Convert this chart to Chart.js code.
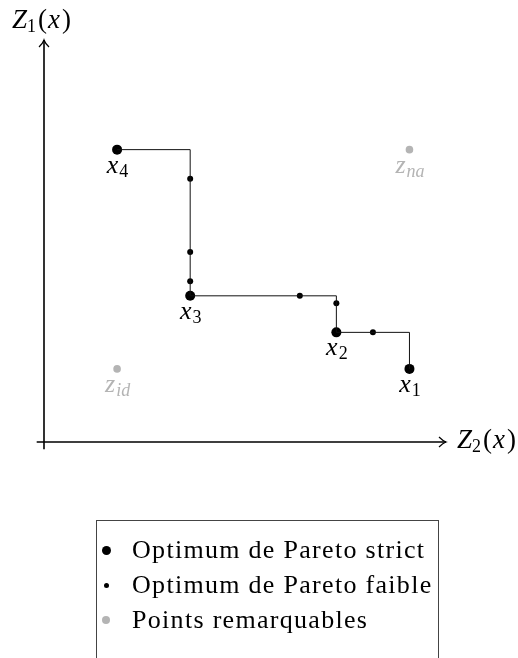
<!DOCTYPE html>
<html>
<head>
<meta charset="utf-8">
<script src="https://cdn.jsdelivr.net/npm/chart.js@4"></script>
<style>
  html, body { margin: 0; padding: 0; background: #fff; overflow: hidden; }
  #wrap { position: relative; width: 518px; height: 658px; }
  #legend { position: absolute; left: 96px; top: 520px; width: 341px; height: 200px;
    border: 1px solid #444; border-bottom: none; font-family: "Liberation Serif", serif;
    font-size: 26px; letter-spacing: 1.3px; color: #000; }
  .row { position: absolute; left: 0; height: 30px; line-height: 30px; white-space: nowrap; }
  .dot { position: absolute; border-radius: 50%; }
  .txt { position: absolute; left: 35px; top: 0; }
</style>
</head>
<body>
<div id="wrap">
  <canvas id="myChart" width="518" height="658"></canvas>
  <div id="legend"></div>
</div>
<script>
// Z2 on the horizontal axis, Z1 on the vertical axis
const strictNames = ['4', '3', '2', '1'];
const strictZ2 = [2, 4, 8, 10];
const strictZ1 = [8, 4, 3, 2];
const weakZ2 = [4, 4, 4, 7, 8, 9];
const weakZ1 = [7.2, 5.2, 4.4, 4, 3.8, 3];
const remarkNames = ['id', 'na'];
const remarkZ2 = [2, 10];
const remarkZ1 = [2, 8];
const legendLabels = ['Optimum de Pareto strict', 'Optimum de Pareto faible', 'Points remarquables'];

const grey = '#b4b4b4';
const serif = '"Liberation Serif", serif';

const toPoints = (xs, ys) => xs.map((x, i) => ({x: x, y: ys[i]}));

// draws things like x_4 or z_id centred on cx
function drawSym(ctx, main, sub, subItalic, cx, base, color){
  ctx.font = 'italic 26px ' + serif;
  const w1 = ctx.measureText(main).width;
  ctx.font = (subItalic ? 'italic ' : '') + '18px ' + serif;
  const w2 = ctx.measureText(sub).width;
  const x0 = cx - (w1 + w2) / 2;
  ctx.fillStyle = color;
  ctx.font = 'italic 26px ' + serif;
  ctx.fillText(main, x0, base);
  ctx.font = (subItalic ? 'italic ' : '') + '18px ' + serif;
  ctx.fillText(sub, x0 + w1 + 1, base + 4);
}

function drawAxisName(ctx, idx, left, base){
  ctx.fillStyle = '#000';
  ctx.font = 'italic 27px ' + serif;
  ctx.fillText('Z', left, base);
  let x = left + ctx.measureText('Z').width;
  ctx.font = '18px ' + serif;
  ctx.fillText(idx, x, base + 4);
  x += ctx.measureText(idx).width + 2;
  ctx.font = '27px ' + serif;
  ctx.fillText('(', x, base);
  x += ctx.measureText('(').width + 1;
  ctx.font = 'italic 27px ' + serif;
  ctx.fillText('x', x, base);
  x += ctx.measureText('x').width + 2;
  ctx.font = '27px ' + serif;
  ctx.fillText(')', x, base);
}

const axesPlugin = {
  id: 'axesPlugin',
  beforeDatasetsDraw(chart){
    const {ctx, scales: {x, y}} = chart;
    const x0 = x.getPixelForValue(0), y0 = y.getPixelForValue(0);
    const xEnd = x.getPixelForValue(11), yEnd = y.getPixelForValue(11);
    ctx.save();
    ctx.strokeStyle = '#000';
    ctx.lineWidth = 1.6;
    ctx.beginPath();
    ctx.moveTo(x.getPixelForValue(-0.2), y0);
    ctx.lineTo(xEnd, y0);
    ctx.moveTo(x0, y.getPixelForValue(-0.2));
    ctx.lineTo(x0, yEnd);
    ctx.stroke();
    // arrow heads
    ctx.lineWidth = 1.2;
    ctx.beginPath();
    ctx.moveTo(xEnd - 7, y0 - 5);
    ctx.quadraticCurveTo(xEnd - 3, y0 - 1, xEnd, y0);
    ctx.quadraticCurveTo(xEnd - 3, y0 + 1, xEnd - 7, y0 + 5);
    ctx.moveTo(x0 - 5, yEnd + 7);
    ctx.quadraticCurveTo(x0 - 1, yEnd + 3, x0, yEnd);
    ctx.quadraticCurveTo(x0 + 1, yEnd + 3, x0 + 5, yEnd + 7);
    ctx.stroke();
    drawAxisName(ctx, '1', 12, 28);
    drawAxisName(ctx, '2', xEnd + 11, y0 + 6);
    ctx.restore();
  },
  afterDatasetsDraw(chart){
    const ctx = chart.ctx;
    ctx.save();
    chart.getDatasetMeta(1).data.forEach((pt, i) => {
      drawSym(ctx, 'x', strictNames[i], false, pt.x, pt.y + 23, '#000');
    });
    chart.getDatasetMeta(3).data.forEach((pt, i) => {
      drawSym(ctx, 'z', remarkNames[i], true, pt.x, pt.y + 23, grey);
    });
    ctx.restore();
  }
};

new Chart(document.getElementById('myChart'), {
  type: 'scatter',
  data: {
    datasets: [{
      label: 'front',
      data: toPoints(strictZ2, strictZ1),
      showLine: true,
      stepped: 'before',
      borderColor: '#111',
      borderWidth: 1,
      pointRadius: 0,
      fill: false
    }, {
      label: legendLabels[0],
      data: toPoints(strictZ2, strictZ1),
      backgroundColor: '#000',
      borderWidth: 0,
      pointRadius: 5
    }, {
      label: legendLabels[1],
      data: toPoints(weakZ2, weakZ1),
      backgroundColor: '#000',
      borderWidth: 0,
      pointRadius: 3
    }, {
      label: legendLabels[2],
      data: toPoints(remarkZ2, remarkZ1),
      backgroundColor: grey,
      borderWidth: 0,
      pointRadius: 3.8
    }]
  },
  options: {
    responsive: false,
    animation: false,
    layout: { padding: { left: 44, right: 72, top: 40, bottom: 216 } },
    scales: {
      x: { type: 'linear', min: 0, max: 11, display: false },
      y: { type: 'linear', min: 0, max: 11, display: false }
    },
    plugins: { legend: { display: false }, tooltip: { enabled: false } },
    elements: { point: { hoverRadius: 0 } },
    clip: false
  },
  plugins: [axesPlugin]
});

// legend box under the chart
const legend = document.getElementById('legend');
const dotSizes = [9, 5, 8];
const dotColors = ['#000', '#000', grey];
legendLabels.forEach((label, i) => {
  const row = document.createElement('div');
  row.className = 'row';
  row.style.top = (14 + 35 * i) + 'px';
  const d = dotSizes[i];
  row.innerHTML = `<span class="dot" style="width:${d}px;height:${d}px;left:${9 - d/2}px;top:${15 - d/2}px;background:${dotColors[i]}"></span><span class="txt">${label}</span>`;
  legend.appendChild(row);
});
</script>
</body>
</html>
